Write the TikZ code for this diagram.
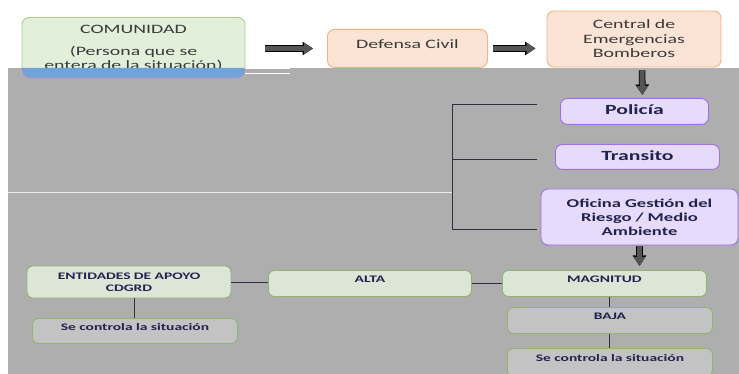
\documentclass[tikz,border=0pt]{standalone}
\usepackage{fontspec}
\setmainfont[FakeStretch=1.55]{Carlito}
\usetikzlibrary{arrows.meta}
\definecolor{bggray}{HTML}{AEAEAE}
\definecolor{greenF}{HTML}{E2EFDA}
\definecolor{greenD}{HTML}{A9D18E}
\definecolor{orangeF}{HTML}{FBE4D5}
\definecolor{orangeD}{HTML}{F4B183}
\definecolor{purpF}{HTML}{E6DBFA}
\definecolor{purpD}{HTML}{9F6FE8}
\definecolor{lgreenF}{HTML}{DDE5D7}
\definecolor{lgreenD}{HTML}{8FB46F}
\definecolor{grayF}{HTML}{C3C3C3}
\definecolor{stripblue}{HTML}{6FA3DA}
\definecolor{stripedge}{HTML}{C98AC8}
\definecolor{txtgray}{HTML}{3A3A3A}
\definecolor{txtnavy}{HTML}{22224F}
\definecolor{arrgray}{HTML}{555555}
\definecolor{linecol}{HTML}{2E2E45}
\begin{document}
\begin{tikzpicture}[x=1pt,y=-1pt,
  box/.style={draw, rounded corners=7pt, line width=0.9pt, align=center, inner sep=0pt},
  topbox/.style={box, fill=orangeF, draw=orangeD, text=txtgray, font=\fontsize{12.8}{14.5}\selectfont},
  purpbox/.style={box, fill=purpF, draw=purpD, text=txtnavy, font=\bfseries\fontsize{14}{15}\selectfont},
  lowbox/.style={box, rounded corners=6pt, fill=lgreenF, draw=lgreenD, text=txtnavy, font=\bfseries\fontsize{10}{12}\selectfont},
  graybox/.style={lowbox, fill=grayF},
  blockarr/.style={preaction={draw=black, line width=6.6pt, -{Triangle[width=13pt,length=10.5pt]}},
                   draw=arrgray, line width=5pt, -{Triangle[width=11pt,length=9pt]}},
  conn/.style={draw=linecol, line width=1pt},
]
\useasboundingbox (0,0) rectangle (739,374);
\fill[white] (0,0) rectangle (739,374);
% COMUNIDAD box (partly covered by the gray panel)
\node[box, fill=greenF, draw=greenD, text=txtgray, text width=223pt, minimum height=62pt,
      font=\fontsize{12.8}{14}\selectfont] (com) at (133.5,48.5)
      {COMUNIDAD\\[8pt](Persona que se\\entera de la situación)};
% gray panel
\fill[bggray] (8,68) rectangle (739,374);
\draw[fill=stripblue, draw=stripedge, line width=0.6pt, rounded corners=8pt]
   (22,68) -- (22,78) -- (245,78) -- (245,68);
\draw[white, line width=0.8pt] (245,68) -- (290,68) (245,73) -- (290,73);
\draw[white!85!gray, line width=1pt] (8,193) -- (452,193);
% top row
\node[topbox, anchor=north west, text width=160pt, text height=19pt, text depth=19pt] (def) at (327,29) {Defensa Civil};
\node[topbox, text width=174pt, minimum height=56pt] (cen) at (634,39) {Central de\\Emergencias\\Bomberos};
% purple boxes
\node[purpbox, anchor=north west, text width=148pt, text height=16pt, text depth=10pt] (pol) at (560,98) {Policía};
\node[purpbox, anchor=north west, text width=164pt, text height=16pt, text depth=9pt] (tra) at (555,144) {Transito};
\node[purpbox, font=\bfseries\fontsize{12}{14}\selectfont, text width=197pt, minimum height=56pt] (ofi) at (639.5,217) {Oficina Gestión del\\Riesgo / Medio\\Ambiente};
% bottom boxes
\node[lowbox, text width=204pt, minimum height=32pt] (ent) at (129,282) {ENTIDADES DE APOYO\\CDGRD};
\node[lowbox, anchor=north west, text width=203pt, text height=12pt, text depth=14pt] (alt) at (268,270) {ALTA};
\node[lowbox, anchor=north west, text width=204pt, text height=12pt, text depth=14pt] (mag) at (502,270) {MAGNITUD};
\node[graybox, anchor=north west, text width=205pt, text height=12pt, text depth=14pt] (baj) at (507,307) {BAJA};
\node[graybox, anchor=north west, text width=205pt, text height=12pt, text depth=13pt] (scl) at (32,318) {Se controla la situación};
\node[graybox, anchor=north west, text width=205pt, text height=13pt, text depth=15pt] (scr) at (507,348) {Se controla la situación};
% block arrows
\draw[blockarr, shorten <=20pt, shorten >=14pt] (com.east) -- (com.east -| def.west);
\draw[blockarr, shorten <=5pt, shorten >=11pt] (def.east) -- (def.east -| cen.west);
\draw[blockarr, shorten <=3pt, shorten >=3pt] ([xshift=8pt]cen.south) -- ([xshift=8pt]pol.north);
\draw[blockarr, shorten <=1pt, shorten >=4pt] (ofi.south) -- (ofi.south |- mag.north);
% bracket
\coordinate (b1) at (537,105);
\coordinate (b2) at (537,160);
\coordinate (b3) at (537,230);
\coordinate (t1) at (452,105);
\coordinate (t2) at (452,160);
\coordinate (t3) at (452,230);
\draw[conn] (b1) -- (t1) -- (t3) -- (b3);
\draw[conn] (t2) -- (b2);
% bottom connectors
\draw[conn] (ent.east) -- (ent.east -| alt.west);
\draw[conn] (alt.east) -- (alt.east -| mag.west);
\draw[conn] (scl.north) -- (scl.north |- ent.south);
\draw[conn] (baj.north) -- (baj.north |- mag.south);
\draw[conn] (scr.north) -- (scr.north |- baj.south);
\end{tikzpicture}
\end{document}
